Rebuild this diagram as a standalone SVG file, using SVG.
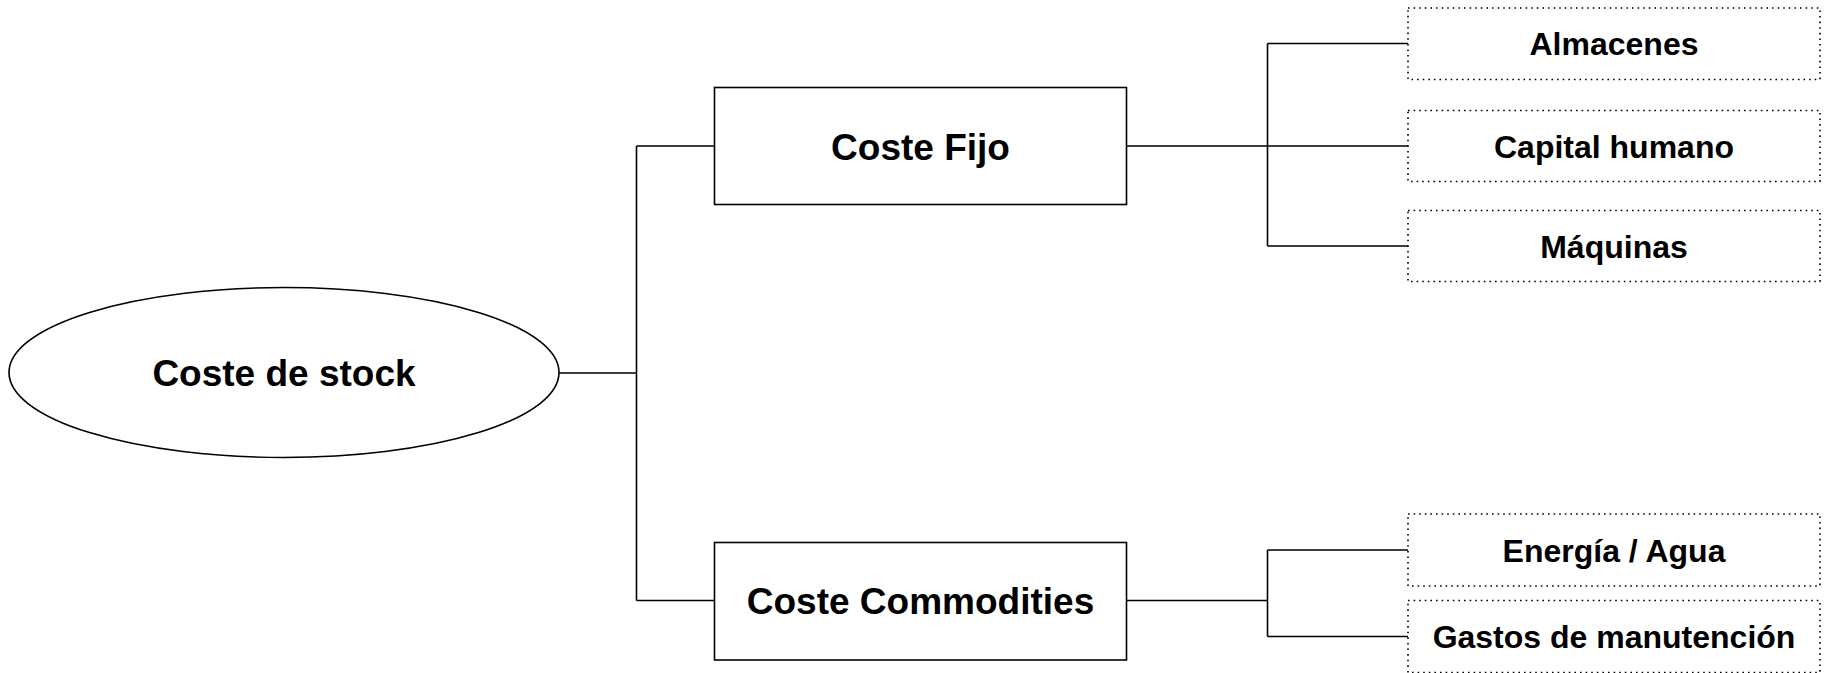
<svg xmlns="http://www.w3.org/2000/svg" width="1825" height="673" viewBox="0 0 1825 673">
<style>
.solid{fill:#fff;stroke:#000;stroke-width:1.6}
.dot{fill:#fff;stroke:#000;stroke-width:1.6;stroke-dasharray:1.6 4}
.big{font-family:"Liberation Sans",Arial,sans-serif;font-weight:bold;font-size:37px;text-anchor:middle;fill:#000}
.small{font-family:"Liberation Sans",Arial,sans-serif;font-weight:bold;font-size:32px;text-anchor:middle;fill:#000}
.conn{fill:none;stroke:#000;stroke-width:1.6}
</style>
<rect width="1825" height="673" fill="#fff"/>
<g id="connectors" class="conn">
<path d="M559 373 H636.5 M636.5 146 V600.5 M636.5 146 H714.5 M636.5 600.5 H714.5"/>
<path d="M1126.5 146 H1408 M1267.5 43.5 V246 M1267.5 43.5 H1408 M1267.5 246 H1408"/>
<path d="M1126.5 600.5 H1267.5 M1267.5 550 V636.5 M1267.5 550 H1408 M1267.5 636.5 H1408"/>
</g>
<g id="coste-de-stock">
<ellipse class="solid" cx="284" cy="372.5" rx="275" ry="85"/>
<text class="big" x="284" y="386">Coste de stock</text>
</g>
<g id="coste-fijo">
<rect class="solid" x="714.5" y="87.5" width="412" height="117"/>
<text class="big" x="920.5" y="159.5">Coste Fijo</text>
</g>
<g id="coste-commodities">
<rect class="solid" x="714.5" y="542.5" width="412" height="117.5"/>
<text class="big" x="920.5" y="614">Coste Commodities</text>
</g>
<g id="almacenes">
<rect class="dot" x="1408" y="8" width="412" height="71.5"/>
<text class="small" x="1614" y="55">Almacenes</text>
</g>
<g id="capital-humano">
<rect class="dot" x="1408" y="110.5" width="412" height="71"/>
<text class="small" x="1614" y="157.5">Capital humano</text>
</g>
<g id="maquinas">
<rect class="dot" x="1408" y="210.5" width="412" height="71"/>
<text class="small" x="1614" y="257.5">Máquinas</text>
</g>
<g id="energia-agua">
<rect class="dot" x="1408" y="514" width="412" height="72"/>
<text class="small" x="1614" y="561.5">Energía / Agua</text>
</g>
<g id="gastos-manutencion">
<rect class="dot" x="1408" y="600.5" width="412" height="72"/>
<text class="small" x="1614" y="648">Gastos de manutención</text>
</g>
</svg>
